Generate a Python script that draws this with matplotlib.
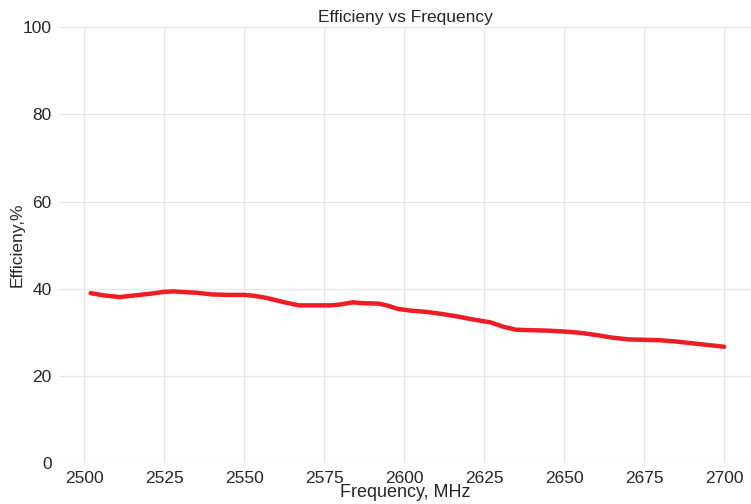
import matplotlib
matplotlib.use("Agg")
import matplotlib.pyplot as plt
import seaborn as sns

freq = [
    2502, 2506, 2511, 2516, 2521, 2525, 2528, 2532, 2535, 2540,
    2545, 2550, 2553, 2557, 2562, 2567, 2572, 2577, 2580, 2584,
    2587, 2592, 2595, 2598, 2602, 2607, 2612, 2617, 2622, 2627,
    2631, 2635, 2640, 2645, 2650, 2655, 2660, 2665, 2670, 2675,
    2680, 2685, 2690, 2695, 2700
]

efficiency = [
    39.0, 38.5, 38.1, 38.5, 38.9, 39.3, 39.4, 39.2, 39.1, 38.7,
    38.6, 38.6, 38.4, 37.9, 37.0, 36.2, 36.2, 36.2, 36.4, 36.9,
    36.7, 36.6, 36.1, 35.4, 35.0, 34.7, 34.2, 33.6, 32.9, 32.3,
    31.3, 30.6, 30.5, 30.4, 30.2, 29.9, 29.4, 28.8, 28.4, 28.3,
    28.2, 27.9, 27.5, 27.1, 26.7
]

x_ticks = [2500, 2525, 2550, 2575, 2600, 2625, 2650, 2675, 2700]
y_ticks = [0, 20, 40, 60, 80, 100]

sns.set_style("whitegrid")
plt.rcParams["font.family"] = ["Liberation Sans", "DejaVu Sans"]

fig = plt.figure(figsize=(7.51, 5.04), dpi=100)
ax = fig.add_axes([0.079, 0.081, 0.921, 0.865])

ax.plot(
    freq,
    efficiency,
    color="#ee1c24",
    linewidth=3.2
)

ax.set_xlim(2492.2, 2708.4)
ax.set_ylim(0, 100)
ax.set_xticks(x_ticks)
ax.set_yticks(y_ticks)

ax.tick_params(labelsize=12.5, colors="#262626", pad=2)

for spine in ax.spines.values():
    spine.set_visible(False)

ax.grid(color="#e6e6e6", linewidth=1)

ax.set_title("Efficieny vs Frequency", fontsize=12.5, color="#262626", pad=4)
ax.set_xlabel("Frequency, MHz", fontsize=13, color="#262626", labelpad=-1)
ax.set_ylabel("Efficieny,%", fontsize=12.5, color="#262626")
ax.yaxis.set_label_coords(-0.05, 0.5)

fig.savefig("out.png", dpi=100)
